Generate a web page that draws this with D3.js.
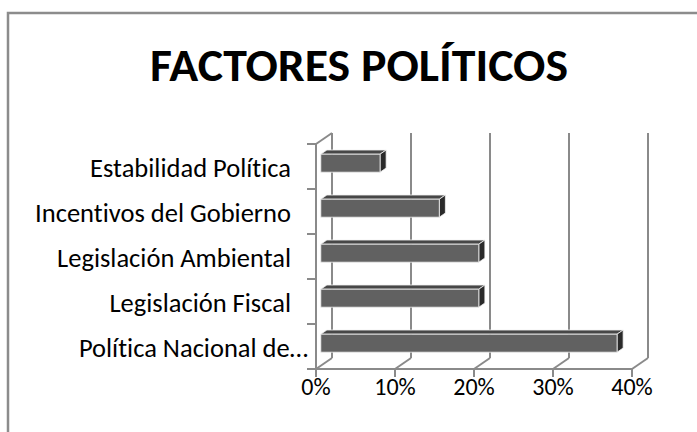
<!DOCTYPE html>
<html>
	<head>
		<meta http-equiv="Content-Type" content="text/html;charset=utf-8"/>
		<title>Factores políticos</title>
		<script src="https://d3js.org/d3.v7.min.js"></script>
		<style type="text/css">
			body { margin: 0; background: #fff; }
			text { font-family: Carlito, Calibri, Lato, sans-serif; fill: #000; font-variant-ligatures: none; }
			.grid { stroke: #8a8a8a; stroke-width: 2; fill: none; }
		</style>
	</head>
	<body>
		<script type="text/javascript">

			//Data (share of answers)
			var categories = ["Estabilidad Política", "Incentivos del Gobierno", "Legislación Ambiental", "Legislación Fiscal", "Política Nacional de…"];
			var values = [0.075, 0.15, 0.20, 0.20, 0.375];
			var ticks = [0, 0.1, 0.2, 0.3, 0.4];
			var tickLabels = ["0%", "10%", "20%", "30%", "40%"];
			var title = "FACTORES POLÍTICOS";

			var w = 697,
				h = 432;

			//Depth of the fake 3D box
			var dx = 16, dy = -11;
			//Depth slice taken by the bars
			var f0 = 0.3, f1 = 0.68;

			var x = d3.scaleLinear().domain([0, 0.4]).range([316, 632]);
			var y = d3.scaleBand().domain(categories).range([144, 369])
						.paddingInner(0.6).paddingOuter(0.3);
			var yTop = y.range()[0], yBottom = y.range()[1];

			var svg = d3.select("body").append("svg")
						.attr("width", w)
						.attr("height", h);

			//Chart border
			svg.append("rect")
				.attr("x", 8).attr("y", 13)
				.attr("width", 730).attr("height", 450)
				.attr("fill", "none")
				.attr("stroke", "#8c8c8c")
				.attr("stroke-width", 2.5);

			//Title
			svg.append("text")
				.attr("x", 359).attr("y", 81)
				.attr("text-anchor", "middle")
				.attr("font-size", 46)
				.attr("font-weight", "bold")
				.attr("textLength", 418)
				.attr("lengthAdjust", "spacingAndGlyphs")
				.text(title);

			//Back wall gridlines
			svg.selectAll("line.back")
				.data(ticks)
				.enter().append("line")
				.attr("class", "grid")
				.attr("x1", function(d) { return x(d) + dx; })
				.attr("x2", function(d) { return x(d) + dx; })
				.attr("y1", yTop + dy)
				.attr("y2", yBottom + dy);

			//Floor lines going back from the front ticks
			svg.selectAll("line.floor")
				.data(ticks)
				.enter().append("line")
				.attr("class", "grid")
				.attr("x1", function(d) { return x(d); })
				.attr("x2", function(d) { return x(d) + dx; })
				.attr("y1", yBottom)
				.attr("y2", yBottom + dy);

			//Front ticks under the floor
			svg.selectAll("line.xtick")
				.data(ticks)
				.enter().append("line")
				.attr("class", "grid")
				.attr("x1", function(d) { return x(d); })
				.attr("x2", function(d) { return x(d); })
				.attr("y1", yBottom)
				.attr("y2", yBottom + 8);

			//Front floor edge
			svg.append("line")
				.attr("class", "grid")
				.attr("x1", x(0)).attr("x2", x(0.4))
				.attr("y1", yBottom).attr("y2", yBottom);

			//Left wall: front edge, top edge and category ticks
			svg.append("line")
				.attr("class", "grid")
				.attr("x1", x(0)).attr("x2", x(0))
				.attr("y1", yTop).attr("y2", yBottom);
			svg.append("line")
				.attr("class", "grid")
				.attr("x1", x(0)).attr("x2", x(0) + dx)
				.attr("y1", yTop).attr("y2", yTop + dy);

			var bounds = categories.map(function(c) { return y(c) - y.step() * y.paddingOuter(); });
			bounds.push(yBottom);
			svg.selectAll("line.ytick")
				.data(bounds)
				.enter().append("line")
				.attr("class", "grid")
				.attr("x1", x(0) - 9)
				.attr("x2", x(0))
				.attr("y1", function(d) { return d; })
				.attr("y2", function(d) { return d; });

			//Bars: top face, right face and front face
			var bars = svg.selectAll("g.bar")
				.data(categories.map(function(c, i) { return { cat: c, value: values[i] }; }))
				.enter().append("g")
				.attr("class", "bar");

			function pt(px, py, f) {
				return [px + dx * f, py + dy * f];
			}

			bars.append("path")
				.attr("d", function(d) {
					var x0 = x(0), x1 = x(d.value), yt = y(d.cat);
					return d3.line()([pt(x0, yt, f0), pt(x1, yt, f0), pt(x1, yt, f1), pt(x0, yt, f1)]) + "Z";
				})
				.attr("fill", "#474747")
				.attr("stroke", "#f2f2f2")
				.attr("stroke-width", 0.8);

			bars.append("path")
				.attr("d", function(d) {
					var x1 = x(d.value), yt = y(d.cat), yb = yt + y.bandwidth();
					return d3.line()([pt(x1, yt, f0), pt(x1, yt, f1), pt(x1, yb, f1), pt(x1, yb, f0)]) + "Z";
				})
				.attr("fill", "#2a2a2a")
				.attr("stroke", "#f2f2f2")
				.attr("stroke-width", 0.8);

			bars.append("path")
				.attr("d", function(d) {
					var x0 = x(0), x1 = x(d.value), yt = y(d.cat), yb = yt + y.bandwidth();
					return d3.line()([pt(x0, yt, f0), pt(x1, yt, f0), pt(x1, yb, f0), pt(x0, yb, f0)]) + "Z";
				})
				.attr("fill", "#616161")
				.attr("stroke", "#f2f2f2")
				.attr("stroke-width", 0.8);

			//Category labels
			svg.selectAll("text.cat")
				.data(categories)
				.enter().append("text")
				.attr("class", "cat")
				.attr("x", function(d, i) { return i === categories.length - 1 ? x(0) - 8 : x(0) - 25; })
				.attr("y", function(d) { return y(d) + y.bandwidth() / 2 + 10; })
				.attr("text-anchor", "end")
				.attr("font-size", 26.5)
				.text(function(d) { return d; });

			//Value labels
			svg.selectAll("text.tick")
				.data(ticks)
				.enter().append("text")
				.attr("class", "tick")
				.attr("x", function(d) { return x(d); })
				.attr("y", 395)
				.attr("text-anchor", "middle")
				.attr("font-size", 24)
				.text(function(d, i) { return tickLabels[i]; });

		</script>
	</body>
</html>
